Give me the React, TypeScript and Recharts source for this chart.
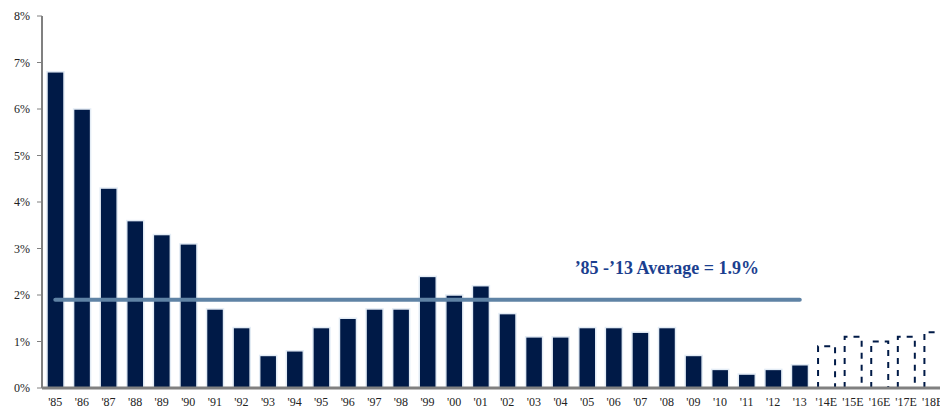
import React from 'react';
import { ComposedChart, Bar, Line, XAxis, YAxis, ReferenceDot } from 'recharts';

const years = [
    "'85", "'86", "'87", "'88", "'89", "'90", "'91", "'92", "'93", "'94",
    "'95", "'96", "'97", "'98", "'99", "'00", "'01", "'02", "'03", "'04",
    "'05", "'06", "'07", "'08", "'09", "'10", "'11", "'12", "'13",
    "'14E", "'15E", "'16E", "'17E", "'18E"
];
const actual = [
    6.8, 6.0, 4.3, 3.6, 3.3, 3.1, 1.7, 1.3, 0.7, 0.8,
    1.3, 1.5, 1.7, 1.7, 2.4, 2.0, 2.2, 1.6, 1.1, 1.1,
    1.3, 1.3, 1.2, 1.3, 0.7, 0.4, 0.3, 0.4, 0.5
];
const estimates = [0.9, 1.1, 1.0, 1.1, 1.2];
const average = 1.9;
const yTicks = [0, 1, 2, 3, 4, 5, 6, 7, 8];

const data = years.map((year, i) => ({
    year,
    value: i < actual.length ? actual[i] : estimates[i - actual.length],
    est: i >= actual.length,
    avg: i < actual.length ? average : null
}));

const NAVY = '#001a47';
const serif = 'Liberation Serif, serif';

const BarShape = (props: any) => {
    const { x, y, width, height, payload } = props;
    if (payload.est) {
        return (
            <path
                d={`M${x},${y + height} L${x},${y} L${x + width},${y} L${x + width},${y + height}`}
                fill="none"
                stroke={NAVY}
                strokeWidth={2}
                strokeDasharray="6 6"
            />
        );
    }
    return <rect x={x} y={y} width={width} height={height} fill={NAVY} stroke="#e3ecf5" strokeWidth={1.5} />;
};

export default function App() {
    return (
        <div style={{ position: 'absolute', left: 0, top: 0, width: 940, height: 409, overflow: 'hidden', background: '#fff', fontFamily: serif }}>
            <ComposedChart
                width={946}
                height={409}
                data={data}
                margin={{ top: 16, right: 0, left: 0, bottom: 0 }}
                style={{ fontFamily: serif }}
            >
                <XAxis
                    dataKey="year"
                    interval={0}
                    tickSize={0}
                    tickMargin={9}
                    height={21}
                    axisLine={{ stroke: '#808080', strokeWidth: 3 }}
                    tick={{ fontSize: 12, fill: '#222' }}
                />
                <YAxis
                    domain={[0, 8]}
                    ticks={yTicks}
                    width={42}
                    tickSize={5}
                    tickMargin={7}
                    tickFormatter={(v: number) => `${v}%`}
                    axisLine={{ stroke: '#808080', strokeWidth: 2 }}
                    tickLine={{ stroke: '#808080' }}
                    tick={{ fontSize: 12, fill: '#222' }}
                />
                <Bar dataKey="value" barSize={17} shape={BarShape} isAnimationActive={false} />
                <Line
                    dataKey="avg"
                    stroke="#5f83a5"
                    strokeWidth={4}
                    strokeLinecap="round"
                    dot={false}
                    activeDot={false}
                    isAnimationActive={false}
                />
                <ReferenceDot
                    x="'08"
                    y={2.58}
                    r={0}
                    fill="none"
                    stroke="none"
                    label={{
                        value: '\u201985 -\u201913 Average = 1.9%',
                        position: 'center',
                        fill: '#1b3f8f',
                        fontSize: 18,
                        fontWeight: 'bold'
                    }}
                />
            </ComposedChart>
        </div>
    );
}
